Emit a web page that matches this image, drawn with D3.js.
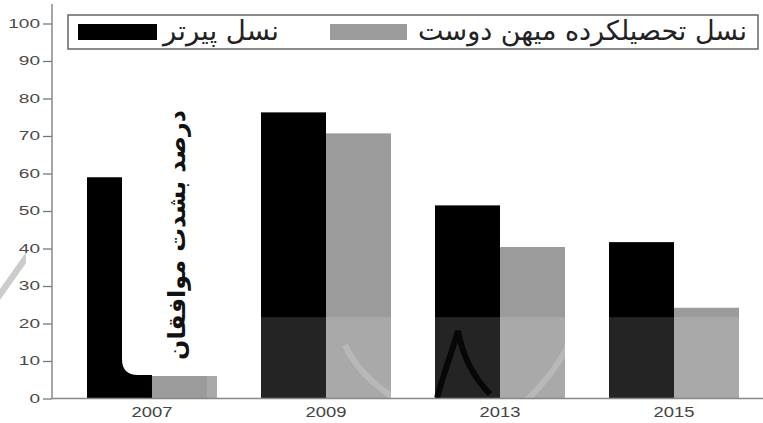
<!DOCTYPE html>
<html><head><meta charset="utf-8">
<script src="https://cdn.jsdelivr.net/npm/d3@7"></script>
<style>
html,body{margin:0;padding:0;background:#fff;}
svg{display:block;}
</style>
</head><body>
<svg id="chart" width="763" height="423"></svg>
<script>
const categories = ["2007", "2009", "2013", "2015"];
const olderGeneration = [59, 76.3, 51.5, 41.7];
const educatedPatriotGeneration = [6, 70.7, 40.4, 24.2];
const seriesNames = ["نسل پیرتر", "نسل تحصیلکرده میهن دوست"];
const seriesColors = ["#000000", "#9b9b9b"];
const yTicks = [0, 10, 20, 30, 40, 50, 60, 70, 80, 90, 100];
const axisTitle = "درصد بشدت موافقان";

const series = [olderGeneration, educatedPatriotGeneration];
const svg = d3.select("#chart");
const W = 763, H = 423;
const axisX = 52;

const y = d3.scaleLinear().domain([0, 100]).range([398.5, 23.5]);
const x = d3.scaleBand().domain(categories).range([65, 761])
  .paddingInner(0.2529).paddingOuter(0.1264);
const xs = d3.scaleBand().domain([0, 1]).range([0, x.bandwidth()]);

// bars
const g = svg.append("g");
categories.forEach((c, i) => {
  series.forEach((s, k) => {
    g.append("rect")
      .attr("x", x(c) + xs(k))
      .attr("y", y(s[i]))
      .attr("width", xs.bandwidth())
      .attr("height", y(0) - y(s[i]))
      .attr("fill", seriesColors[k]);
  });
});

// watermark-like light overlay at the bottom
svg.append("rect").attr("x", 207).attr("y", y(21.7)).attr("width", 538)
  .attr("height", y(0) - y(21.7)).attr("fill", "#fff").attr("opacity", 0.14);
// dark arch in the 2013 bar
svg.append("path")
  .attr("d", "M437,398 C444,372 452,352 458,331 C462,352 470,374 490,394")
  .attr("fill", "none").attr("stroke", "#000").attr("stroke-width", 6).attr("opacity", 0.8);
// faint watermark arcs
svg.append("path")
  .attr("d", "M345,345 C360,380 400,405 440,423 M575,330 C560,370 530,400 500,423")
  .attr("fill", "none").attr("stroke", "#fff").attr("stroke-width", 6).attr("opacity", 0.18);

// axis title box (white, rounded bottom-left)
const bx0 = 122, bx1 = 258, by0 = 100, by1 = 375, r = 16;
svg.append("path")
  .attr("d", `M${bx0},${by0} L${bx1},${by0} L${bx1},${by1} L${bx0 + r},${by1} Q${bx0},${by1} ${bx0},${by1 - r} Z`)
  .attr("fill", "#fff");
const title = svg.append("text")
  .attr("transform", "translate(185,235) rotate(-90)")
  .attr("text-anchor", "middle")
  .attr("direction", "rtl")
  .attr("font-family", "DejaVu Sans, sans-serif")
  .attr("font-size", 24)
  .attr("font-weight", "bold")
  .attr("fill", "#111")
  .text(axisTitle);
{
  const len = title.node().getComputedTextLength();
  title.attr("font-size", 24 * 250 / len);
}

// y axis
const yAxis = d3.axisLeft(y).tickValues(yTicks).tickSize(9).tickPadding(3).tickSizeOuter(0);
const ya = svg.append("g").attr("transform", `translate(${axisX},0)`).call(yAxis);
ya.select(".domain").remove();
ya.selectAll(".tick line").attr("stroke", "#777").attr("stroke-width", 1.3);
ya.selectAll(".tick text").attr("font-family", "Liberation Sans, Arial, sans-serif")
  .attr("font-size", 12).attr("fill", "#4a4a4a")
  .attr("textLength", function () { return this.textContent.length * 10.6; })
  .attr("lengthAdjust", "spacingAndGlyphs");
svg.append("line").attr("x1", axisX).attr("x2", axisX).attr("y1", 4).attr("y2", y(0))
  .attr("stroke", "#888").attr("stroke-width", 1.5);

// x axis
const xAxis = d3.axisBottom(x).tickSize(0).tickPadding(8);
const xa = svg.append("g").attr("transform", `translate(0,${y(0)})`).call(xAxis);
xa.select(".domain").remove();
xa.selectAll(".tick text").attr("font-family", "Liberation Sans, Arial, sans-serif")
  .attr("font-size", 14.5).attr("fill", "#444")
  .attr("textLength", 41).attr("lengthAdjust", "spacingAndGlyphs");
svg.append("line").attr("x1", axisX).attr("x2", W).attr("y1", y(0)).attr("y2", y(0))
  .attr("stroke", "#888").attr("stroke-width", 1.5);

// legend
const lg = svg.append("g");
lg.append("rect").attr("x", 68).attr("y", 15).attr("width", 690).attr("height", 34)
  .attr("fill", "#fff").attr("stroke", "#666").attr("stroke-width", 1.5);
const legendItems = [
  { sx: 78, sw: 79, tx: 163, tw: 116 },
  { sx: 330, sw: 77, tx: 418, tw: 329 }
];
legendItems.forEach((it, k) => {
  lg.append("rect").attr("x", it.sx).attr("y", 24).attr("width", it.sw).attr("height", 16)
    .attr("fill", seriesColors[k]);
  const t = lg.append("text")
    .attr("x", it.tx + it.tw / 2).attr("y", 40)
    .attr("text-anchor", "middle")
    .attr("direction", "rtl")
    .attr("font-family", "DejaVu Sans, sans-serif")
    .attr("font-size", 20)
    .attr("fill", "#222")
    .text(seriesNames[k]);
  const len = t.node().getComputedTextLength();
  t.attr("font-size", 20 * it.tw / len);
});

// stray watermark fragment on the left edge
svg.append("path").attr("d", "M0,300 L26,263 L26,252 L0,289 Z").attr("fill", "#ccc");
</script>
</body></html>
